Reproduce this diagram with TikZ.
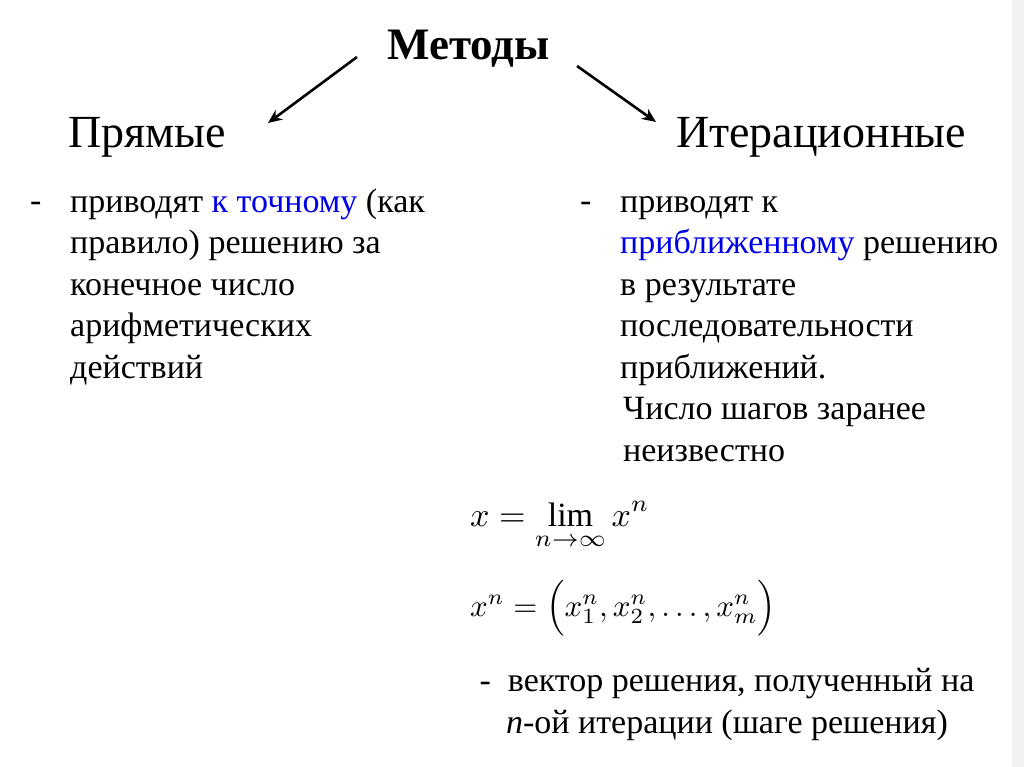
\documentclass[tikz,border=0pt]{standalone}
\usepackage{graphicx}
\usepackage{fontspec}
\setmainfont{Liberation Serif}
\usetikzlibrary{arrows.meta,positioning}
\definecolor{textblue}{RGB}{0,0,230}
\definecolor{edgegray}{RGB}{242,242,242}
\newcommand{\bigmath}[2][3.4]{\scalebox{#1}{\fontsize{10}{12}\selectfont #2}}

\begin{document}
\begin{tikzpicture}[x=1pt, y=-1pt,
    body/.style={anchor=base west, inner sep=0pt, align=left, font=\fontsize{34}{41.5}\selectfont},
    head/.style={anchor=base west, inner sep=0pt, font=\fontsize{46}{50}\selectfont},
    formula/.style={anchor=base west, inner sep=0pt},
    arrow/.style={-{Stealth[length=14pt, width=12pt]}, line width=2.6pt}
]
    \useasboundingbox (0,0) rectangle (1024,767);
    \fill[white] (0,0) rectangle (1024,767);
    \fill[edgegray] (1012,0) rectangle (1024,767);

    \node[head, font=\fontsize{45}{50}\selectfont\bfseries] (title) at (387,60) {Методы};
    \node[head] (direct) at (68,148) {Прямые};
    \node[head] (iter) at (676,148) {Итерационные};

    \coordinate (dstart) at (357,57);
    \coordinate (dend) at (268,123);
    \coordinate (istart) at (577,66);
    \coordinate (iend) at (656,122);
    \draw[arrow] (dstart) -- (dend);
    \draw[arrow] (istart) -- (iend);

    % left column (base = last line)
    \node[body] (ldash) at (30,212) {-};
    \node[body] (ltext) at (70,378) {приводят \textcolor{textblue}{к точному} (как\\
        правило) решению за\\ конечное число\\ арифметических\\ действий};

    % right column
    \node[body] (rdash) at (580,212) {-};
    \node[body] (rtext) at (620,378) {приводят к\\
        \textcolor{textblue}{приближенному} решению\\ в результате\\
        последовательности\\ приближений.};
    \node[body] (steps) at (623,461) {Число шагов заранее\\ неизвестно};

    % formulas
    \node[formula] (limit) at (470,526) {\bigmath{$\displaystyle x=\lim_{n\to\infty}x^{n}$}};
    \node[formula] (vector) at (470,616) {\bigmath[3.1]{$x^{n}=\Bigl(x_1^{n},x_2^{n},\ldots,x_m^{n}\Bigr)$}};

    \node[body, anchor=base, align=center] (note) at (727,733)
        {-\ \ вектор решения, полученный на\\ \textit{n}-ой итерации (шаге решения)};
\end{tikzpicture}
\end{document}
